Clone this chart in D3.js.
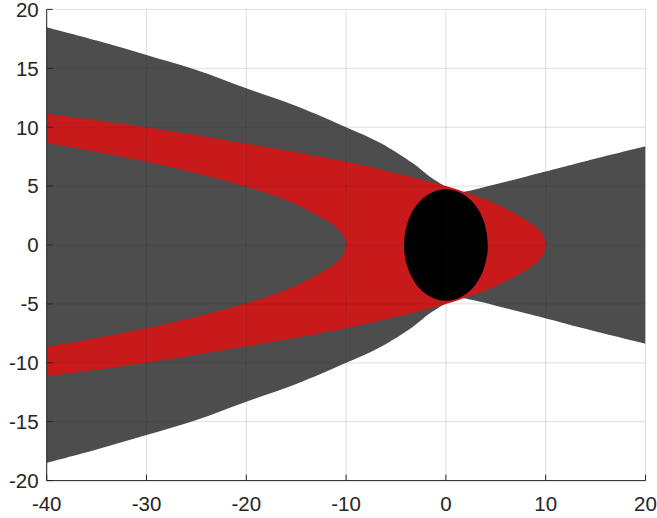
<!DOCTYPE html>
<html>
  <head>
    <meta charset="utf-8">
    <title>Shadow chart</title>
    <script src="https://d3js.org/d3.v7.min.js"></script>
    <style>
      body { margin: 0; background: #fff; }
      text { font-family: "Liberation Sans", Arial, sans-serif; }
    </style>
  </head>
  <body>
    <div id="chart"></div>
    <script>
    // values (upper halves, the shapes are mirrored about y = 0)
    var xTicks = [-40, -30, -20, -10, 0, 10, 20];
    var yTicks = [-20, -15, -10, -5, 0, 5, 10, 15, 20];

    var grayLeftX = [-40, -35, -30, -25, -20, -15, -10, -6.6, -3.3, -1.6, 0];
    var grayLeftY = [18.48, 17.35, 16.13, 14.85, 13.3, 11.8, 10.0, 8.68, 6.93, 5.8, 4.95];

    var grayRightX = [0, 1.5, 2.7, 5, 8, 11.45, 13.45, 20];
    var grayRightY = [4.35, 4.47, 4.67, 5.15, 5.8, 6.55, 7.0, 8.38];

    var redOuterX = [-40, -30, -20, -10, -5, 0, 2.5, 5, 7.4, 9, 9.7, 10];
    var redOuterY = [11.15, 10.0, 8.6, 7.07, 6.1, 5.0, 4.3, 3.5, 2.45, 1.55, 0.85, 0];

    var redInnerX = [-40, -35, -30, -25, -20, -16, -13.6, -12, -11, -10.3, -10];
    var redInnerY = [8.65, 7.9, 7.07, 6.1, 4.95, 3.8, 2.85, 2.1, 1.5, 0.8, 0];

    var discCx = 0, discCy = 0, discRx = 4.2, discRy = 4.74;

    var W = 657, H = 518;
    var pLeft = 46.7, pRight = 645.5, pTop = 9.4, pBottom = 480.6;

    var x = d3.scaleLinear().domain([-40, 20]).range([pLeft, pRight]);
    var y = d3.scaleLinear().domain([-20, 20]).range([pBottom, pTop]);

    var svg = d3.select("#chart").append("svg")
      .attr("width", W).attr("height", H);
    svg.append("rect").attr("width", W).attr("height", H).attr("fill", "#fff");

    svg.append("clipPath").attr("id", "plot")
      .append("rect").attr("x", pLeft).attr("y", pTop)
      .attr("width", pRight - pLeft).attr("height", pBottom - pTop);

    var line = d3.line().x(d => x(d[0])).y(d => y(d[1])).curve(d3.curveCatmullRom.alpha(0.5));

    function pts(xs, ys, sign) {
      return xs.map((v, i) => [v, sign * ys[i]]);
    }
    // join curve pieces into one closed outline
    function joined(pieces) {
      return pieces.map((p, i) => {
        var s = line(p);
        return i === 0 ? s : "L" + s.slice(1);
      }).join("") + "Z";
    }

    var g = svg.append("g").attr("clip-path", "url(#plot)");

    // gray, left part
    var gl = pts(grayLeftX, grayLeftY, 1);
    var glb = pts(grayLeftX, grayLeftY, -1).reverse();
    g.append("path").attr("d", joined([gl, glb])).attr("fill", "#4d4d4d");

    // gray, right part
    var gr = pts(grayRightX, grayRightY, 1);
    var grb = pts(grayRightX, grayRightY, -1).reverse();
    g.append("path").attr("d", joined([gr, grb])).attr("fill", "#4d4d4d");

    // red band between the two nose curves
    var outer = pts(redOuterX, redOuterY, 1)
      .concat(pts(redOuterX, redOuterY, -1).reverse().slice(1));
    var inner = pts(redInnerX, redInnerY, -1)
      .concat(pts(redInnerX, redInnerY, 1).reverse().slice(1));
    g.append("path").attr("d", joined([outer, inner])).attr("fill", "#c81a1a");

    // black disc
    g.append("ellipse")
      .attr("cx", x(discCx)).attr("cy", y(discCy))
      .attr("rx", x(discRx) - x(0)).attr("ry", y(0) - y(discRy))
      .attr("fill", "#000");

    // grid on top
    var grid = svg.append("g").attr("stroke", "#262626").attr("stroke-opacity", 0.15).attr("stroke-width", 1);
    xTicks.forEach(t => {
      grid.append("line").attr("x1", x(t)).attr("x2", x(t)).attr("y1", pTop).attr("y2", pBottom);
    });
    yTicks.forEach(t => {
      grid.append("line").attr("y1", y(t)).attr("y2", y(t)).attr("x1", pLeft).attr("x2", pRight);
    });

    // axes, ticks inward
    var ax = svg.append("g").attr("stroke", "#262626").attr("stroke-width", 1);
    ax.append("line").attr("x1", pLeft).attr("x2", pLeft).attr("y1", pTop).attr("y2", pBottom);
    ax.append("line").attr("x1", pLeft).attr("x2", pRight).attr("y1", pBottom).attr("y2", pBottom);
    yTicks.forEach(t => {
      ax.append("line").attr("x1", pLeft).attr("x2", pLeft + 6).attr("y1", y(t)).attr("y2", y(t));
    });
    xTicks.forEach(t => {
      ax.append("line").attr("x1", x(t)).attr("x2", x(t)).attr("y1", pBottom).attr("y2", pBottom - 6);
    });

    svg.selectAll(".ylab").data(yTicks).enter().append("text")
      .attr("x", pLeft - 8).attr("y", d => y(d)).attr("dy", "0.36em")
      .attr("text-anchor", "end").attr("font-size", 20.5).attr("fill", "#262626")
      .text(d => d);

    svg.selectAll(".xlab").data(xTicks).enter().append("text")
      .attr("x", d => x(d)).attr("y", 511)
      .attr("text-anchor", "middle").attr("font-size", 20.5).attr("fill", "#262626")
      .text(d => d);
    </script>
  </body>
</html>
